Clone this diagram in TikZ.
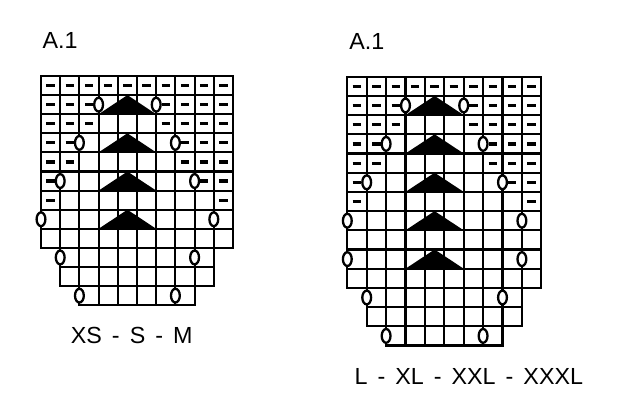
\documentclass[tikz,border=0pt]{standalone}
\usepackage{fontspec}
\setmainfont[WordSpace=1.55]{Liberation Sans}
\tikzset{
  gridline/.style={line width=2.1pt, draw=black},
  purl/.style={line width=3.2pt, draw=black},
  yo/.style={line width=2.3pt, draw=black, fill=white},
  dec/.style={fill=black},
  lbl/.style={inner sep=0pt, font=\fontsize{23.3}{27}\selectfont}
}
\newcommand\knitcells[4]{%
  \foreach \rr in {#1,...,#2}{\foreach \cc in {#3,...,#4}{%
    \draw[gridline] (\cc-1,\rr-1) rectangle (\cc,\rr);}}}
\newcommand\purlrow[2]{%
  \foreach \cc in {#2}{\draw[purl] (\cc-0.72,#1-0.5) -- (\cc-0.28,#1-0.5);}}
\newcommand\yopair[3]{%
  \draw[yo] (#2,#1-0.5) ellipse [x radius=4.4pt, y radius=6.9pt];
  \draw[yo] (#3,#1-0.5) ellipse [x radius=4.4pt, y radius=6.9pt];}
\newcommand\decr[1]{\fill[dec] (3,#1) -- (6,#1) -- (4.5,#1-1) -- cycle;}
\newcommand\toppart{%
  \purlrow{1}{1,...,10}
  \purlrow{2}{1,2,3,7,8,9,10}
  \purlrow{3}{1,2,3,7,8,9,10}
  \purlrow{4}{1,2,8,9,10}
  \purlrow{5}{1,2,8,9,10}
  \purlrow{6}{1,9,10}
  \purlrow{7}{1,10}
  \decr{2}\decr{4}\decr{6}\decr{8}
  \yopair{2}{3}{6}
  \yopair{4}{2}{7}
  \yopair{6}{1}{8}
  \yopair{8}{0}{9}}
\begin{document}
\begin{tikzpicture}[x=1pt,y=-1pt]
\useasboundingbox (0,0) rectangle (617,400);
% left chart
\begin{scope}[shift={(41,76)}, x=19.2pt, y=-19.1pt]
  \knitcells{1}{9}{1}{10}
  \knitcells{10}{11}{2}{9}
  \knitcells{12}{12}{3}{8}
  \toppart
  \yopair{10}{1}{8}
  \yopair{12}{2}{7}
\end{scope}
% right chart
\begin{scope}[shift={(347.3,76.7)}, x=19.4pt, y=-19.2pt]
  \knitcells{1}{11}{1}{10}
  \knitcells{12}{13}{2}{9}
  \knitcells{14}{14}{3}{8}
  \toppart
  \decr{10}
  \yopair{10}{0}{9}
  \yopair{12}{1}{8}
  \yopair{14}{2}{7}
\end{scope}
\node[lbl, anchor=base west] (titleL) at (42.5,48.3) {A.1};
\node[lbl, anchor=base west] (titleR) at (349.2,49.3) {A.1};
\node[lbl, anchor=base] (sizesL) at (131.7,343.3) {XS - S - M};
\node[lbl, anchor=base] (sizesR) at (468.8,384) {L - XL - XXL - XXXL};
\end{tikzpicture}
\end{document}
